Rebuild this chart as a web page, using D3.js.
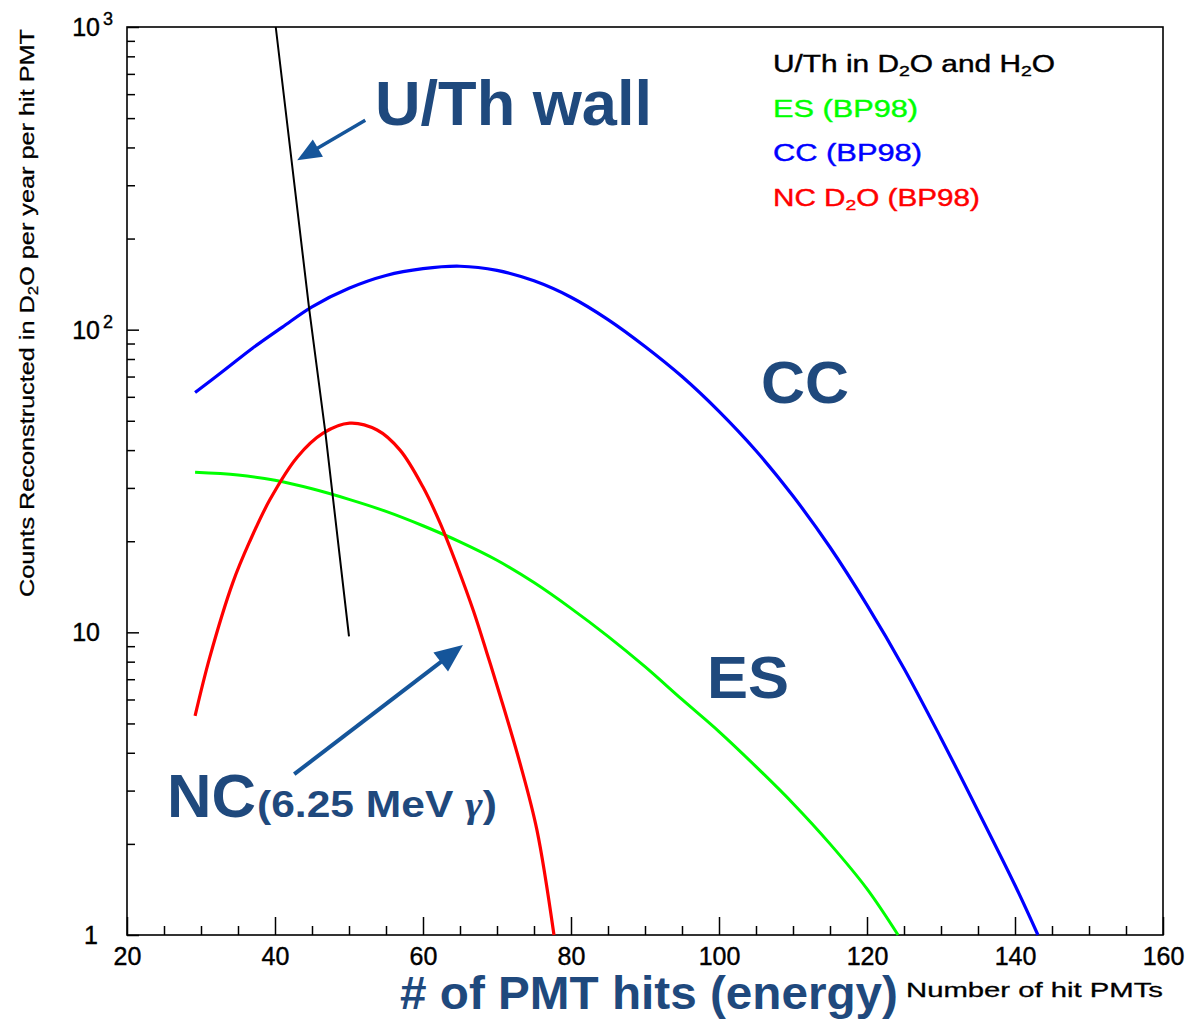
<!DOCTYPE html>
<html>
<head>
<meta charset="utf-8">
<script src="https://cdn.jsdelivr.net/npm/d3@7"></script>
<style>
  body { margin: 0; background: #fff; }
  text { font-family: "Liberation Sans", Arial, sans-serif; }
</style>
</head>
<body>
<svg id="chart" width="1192" height="1021"></svg>
<script>
// tick labels
const xTicks = [20, 40, 60, 80, 100, 120, 140, 160];
const yTicks = [1, 10, 100, 1000];

// U/Th in D2O and H2O (black wall)
const uthX = [40.1, 44.6, 46.8, 50.0];
const uthY = [1000, 118, 45.9, 9.7];

// ES (BP98)
const esX = [29.2, 35, 40, 45, 50, 55, 60, 65, 70, 75, 80, 85, 90, 95, 100, 105, 110, 115, 120, 124.2];
const esY = [33.8, 33.1, 31.8, 29.8, 27.5, 25.1, 22.5, 19.9, 17.3, 14.6, 12.0, 9.7, 7.7, 6.0, 4.7, 3.6, 2.72, 2.0, 1.42, 1.0];

// CC (BP98)
const ccX = [29.2, 33, 37, 41, 45, 50, 55, 60, 65, 70, 75, 80, 85, 90, 95, 100, 105, 110, 115, 120, 125, 130, 135, 140, 143.1];
const ccY = [62, 73, 87, 102, 119, 137, 151, 159, 162, 157, 145, 128, 108, 88, 70, 53.7, 39.8, 28.2, 19.1, 12.3, 7.6, 4.47, 2.57, 1.46, 1.0];

// NC D2O (BP98)
const ncX = [29.2, 31.2, 34.3, 36.6, 39.3, 43.0, 46.5, 50.1, 53.8, 56.9, 60.0, 62.3, 64.6, 66.8, 68.6, 70.4, 73.1, 75.4, 77.7];
const ncY = [5.3, 8.3, 14.6, 20.0, 27.4, 37.9, 45.5, 49.1, 46.6, 40.0, 30.2, 23.0, 16.6, 11.8, 8.6, 6.2, 3.7, 2.22, 1.0];

const navy = "#1f497d";
const arrowBlue = "#15559a";

const svg = d3.select("#chart");
const x = d3.scaleLinear().domain([20, 160]).range([127, 1163]);
const y = d3.scaleLog().domain([1, 1000]).range([935, 27]);

// x axis ticks (inward) and labels
const xMinor = d3.range(20, 161, 5).filter(v => v % 20 != 0);
svg.append("g").attr("transform", "translate(0,935)")
  .call(d3.axisBottom(x).tickValues(xMinor).tickSize(-9).tickFormat(""))
  .call(g => g.select(".domain").remove())
  .selectAll("line").attr("stroke-width", 1.5);
svg.append("g").attr("transform", "translate(0,935)")
  .call(d3.axisBottom(x).tickValues(xTicks).tickSize(-18).tickPadding(12).tickFormat(d3.format("d")))
  .call(g => g.select(".domain").remove())
  .call(g => g.selectAll("line").attr("stroke-width", 1.5))
  .selectAll("text")
  .attr("font-family", "Liberation Sans, Arial, sans-serif")
  .attr("font-size", 25).attr("fill", "#000")
  .attr("stroke", "#000").attr("stroke-width", 0.4);

// y axis ticks (inward)
const yMinor = [];
[1, 10, 100].forEach(dec => { for (let k = 2; k <= 9; k++) yMinor.push(dec * k); });
svg.append("g").attr("transform", "translate(127,0)")
  .call(d3.axisLeft(y).tickValues(yMinor).tickSize(-8).tickFormat(""))
  .call(g => g.select(".domain").remove())
  .selectAll("line").attr("stroke-width", 1.5);
svg.append("g").attr("transform", "translate(127,0)")
  .call(d3.axisLeft(y).tickValues(yTicks).tickSize(-12).tickFormat(""))
  .call(g => g.select(".domain").remove())
  .selectAll("line").attr("stroke-width", 1.5);

// y labels: 1, 10, 10^2, 10^3
const yl = svg.append("g").attr("font-size", 25).attr("fill", "#000")
  .attr("stroke", "#000").attr("stroke-width", 0.4);
yTicks.forEach(v => {
  const p = Math.round(Math.log10(v));
  const base = p == 0 ? "1" : "10";
  yl.append("text").attr("x", p == 0 ? 98 : 100).attr("y", y(v) + 9)
    .attr("text-anchor", "end").text(base);
  if (p >= 2) {
    yl.append("text").attr("x", 103).attr("y", y(v) - 2)
      .attr("font-size", 18).text(p);
  }
});

// frame
svg.append("rect").attr("x", 127).attr("y", 27).attr("width", 1036).attr("height", 908)
  .attr("fill", "none").attr("stroke", "#000").attr("stroke-width", 1.6);

// curves
function series(xs, ys) { return xs.map((d, i) => [d, ys[i]]); }
const line = d3.line().x(d => x(d[0])).y(d => y(d[1])).curve(d3.curveCatmullRom.alpha(0.5));
const straight = d3.line().x(d => x(d[0])).y(d => y(d[1]));

svg.append("path").datum(series(esX, esY)).attr("d", line)
  .attr("fill", "none").attr("stroke", "#00ff00").attr("stroke-width", 3);
svg.append("path").datum(series(ccX, ccY)).attr("d", line)
  .attr("fill", "none").attr("stroke", "#0000ff").attr("stroke-width", 3.2);
svg.append("path").datum(series(ncX, ncY)).attr("d", line)
  .attr("fill", "none").attr("stroke", "#ff0000").attr("stroke-width", 3.2);
svg.append("path").datum(series(uthX, uthY)).attr("d", straight)
  .attr("fill", "none").attr("stroke", "#000").attr("stroke-width", 2);

// legend
const legend = [
  { color: "#000", len: 282, parts: [["U/Th in D"], ["2", 1], ["O and H"], ["2", 1], ["O"]] },
  { color: "#00ff00", len: 145, parts: [["ES (BP98)"]] },
  { color: "#0000ff", len: 149, parts: [["CC (BP98)"]] },
  { color: "#ff0000", len: 207, parts: [["NC D"], ["2", 1], ["O (BP98)"]] }
];
legend.forEach((l, i) => {
  const t = svg.append("text").attr("x", 773).attr("y", 72 + i * 44.7)
    .attr("font-size", 23).attr("fill", l.color)
    .attr("stroke", l.color).attr("stroke-width", 0.4)
    .attr("textLength", l.len).attr("lengthAdjust", "spacingAndGlyphs");
  l.parts.forEach(p => {
    const s = t.append("tspan").text(p[0]);
    if (p[1]) s.attr("font-size", 15).attr("dy", 4);
    else if (t.selectAll("tspan").size() > 1) s.attr("dy", -4);
  });
});

// axis titles
svg.append("text")
  .attr("transform", "translate(34,597) rotate(-90)")
  .attr("font-size", 21).attr("fill", "#000")
  .attr("stroke", "#000").attr("stroke-width", 0.3)
  .attr("textLength", 568).attr("lengthAdjust", "spacingAndGlyphs")
  .call(t => {
    t.append("tspan").text("Counts Reconstructed in D");
    t.append("tspan").text("2").attr("font-size", 14).attr("dy", 4);
    t.append("tspan").text("O per year per hit PMT").attr("dy", -4);
  });

svg.append("text").attr("x", 906).attr("y", 997)
  .attr("font-size", 21).attr("fill", "#000")
  .attr("stroke", "#000").attr("stroke-width", 0.3)
  .attr("textLength", 257).attr("lengthAdjust", "spacingAndGlyphs")
  .text("Number of hit PMTs");

svg.append("text").attr("x", 400).attr("y", 1009)
  .attr("font-size", 46).attr("font-weight", "bold").attr("fill", navy)
  .attr("textLength", 498).attr("lengthAdjust", "spacingAndGlyphs")
  .text("# of PMT hits (energy)");

// annotations
function arrow(x1, y1, x2, y2, headLen, headW, w) {
  const X1 = x(x1), Y1 = y(y1), X2 = x(x2), Y2 = y(y2);
  const dx = X2 - X1, dy = Y2 - Y1, L = Math.hypot(dx, dy);
  const ux = dx / L, uy = dy / L;
  const bx = X2 - ux * headLen, by = Y2 - uy * headLen;
  svg.append("line").attr("x1", X1).attr("y1", Y1).attr("x2", bx + ux * 2).attr("y2", by + uy * 2)
    .attr("stroke", arrowBlue).attr("stroke-width", w);
  svg.append("polygon")
    .attr("points", [[X2, Y2], [bx - uy * headW / 2, by + ux * headW / 2], [bx + uy * headW / 2, by - ux * headW / 2]].join(" "))
    .attr("fill", arrowBlue);
}
arrow(52.2, 492, 43.0, 363, 24, 20, 3.5);
arrow(42.6, 3.40, 65.4, 9.08, 28, 24, 4);

function label(txt, px, py, size, len) {
  const t = svg.append("text").attr("x", px).attr("y", py)
    .attr("font-size", size).attr("font-weight", "bold").attr("fill", navy).text(txt);
  if (len) t.attr("textLength", len).attr("lengthAdjust", "spacingAndGlyphs");
  return t;
}
label("U/Th wall", 375, 125, 63, 277);
label("CC", 761, 403, 60, 88);
label("ES", 707, 698, 60, 82);
label("NC", 167, 817, 61, 89);
svg.append("text").attr("x", 257).attr("y", 817)
  .attr("font-size", 36).attr("font-weight", "bold").attr("fill", navy)
  .attr("textLength", 240).attr("lengthAdjust", "spacingAndGlyphs")
  .call(t => {
    t.append("tspan").text("(6.25 MeV ");
    t.append("tspan").attr("font-family", "Liberation Serif, serif").attr("font-style", "italic").text("γ");
    t.append("tspan").text(")");
  });
</script>
</body>
</html>
